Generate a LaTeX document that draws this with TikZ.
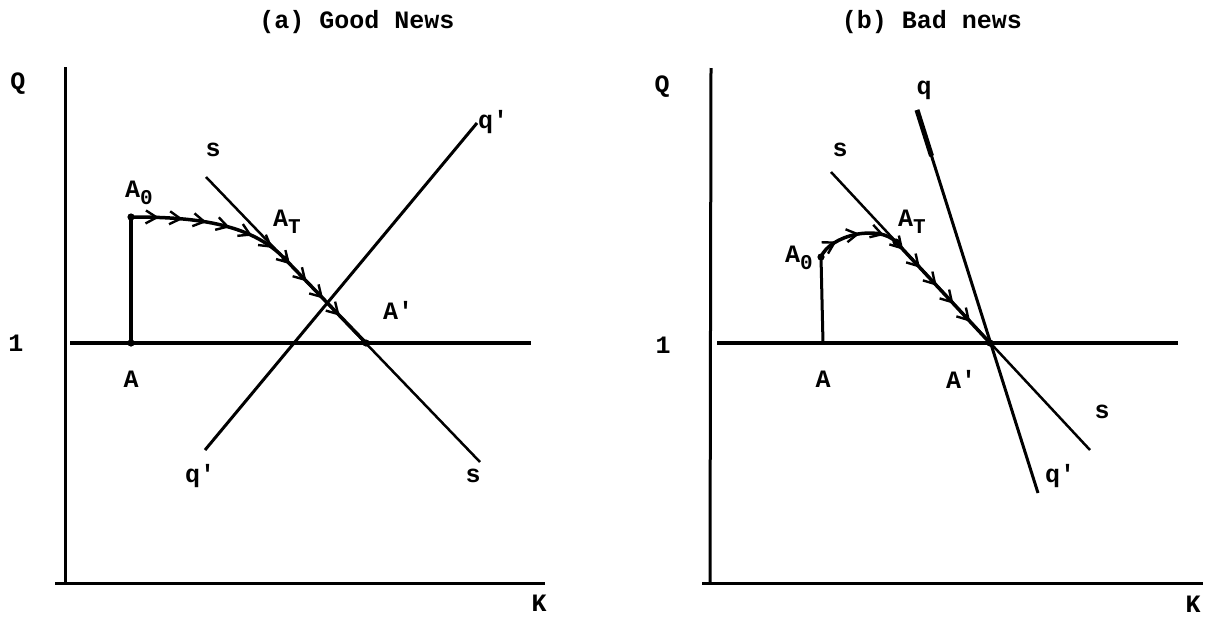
\documentclass[tikz,border=0pt]{standalone}
\usepackage{fontspec}
\setmonofont{Liberation Mono}
\usepackage{tikz}
\usetikzlibrary{arrows.meta,positioning,calc,decorations.markings}
\newcommand{\lowsub}[1]{\raisebox{-0.55ex}{\fontsize{21}{24}\selectfont #1}}

\begin{document}
\begin{tikzpicture}[
    x=1pt,y=-1pt,
    lbl/.style={font=\ttfamily\bfseries\fontsize{25}{28}\selectfont,inner sep=1pt},
    axis/.style={line width=3pt},
    unitline/.style={line width=3.2pt},
    sline/.style={line width=2.5pt},
    qline/.style={line width=3pt},
    trail/.style={line width=3.5pt,postaction={decorate},
      decoration={markings,mark=between positions #1 with {\arrow{Straight Barb[length=11pt,width=13pt,line width=2.4pt]}}}},
    dot/.style={fill=black}
  ]
    \useasboundingbox (0,0) rectangle (1212,616);

    % (a) good news
    \coordinate (lQend) at (65,67);
    \coordinate (lO) at (65,583);
    \coordinate (lO0) at (55,583);
    \coordinate (lKend) at (545,583);
    \coordinate (lOne0) at (70,343);
    \coordinate (lOne1) at (531,343);
    \coordinate (lA) at (131,343);
    \coordinate (lA0) at (131,217);
    \coordinate (lAT) at (285,259);
    \coordinate (lAp) at (366,343);
    \coordinate (ls0) at (206,177);
    \coordinate (ls1) at (480,462);
    \coordinate (lq0) at (205,450);
    \coordinate (lq1) at (477,123);

    \draw[axis] (lQend) -- (lO);
    \draw[axis] (lO0) -- (lKend);
    \draw[unitline] (lOne0) -- (lOne1);
    \draw[sline] (ls0) -- (ls1);
    \draw[qline] (lq0) -- (lq1);
    \draw[line width=4.5pt] (lA) -- (lA0);
    \draw[trail={0.1 and 0.95 step 0.085}] (lA0) .. controls (191,217) and (250,222) .. (lAT) -- (lAp);
    \foreach \p in {lA,lA0,lAT,lAp} \fill[dot] (\p) circle (3.6);

    \node[lbl] (ta) at (357,22) {(a) Good News};
    \node[lbl] (lQ) at (18,84) {Q};
    \node[lbl] (l1) at (16,343) {1};
    \node[lbl] (lK) at (539,603) {K};
    \node[lbl] (lAlbl) at (131,379) {A};
    \node[lbl] (lA0lbl) at (139,193) {A\lowsub{0}};
    \node[lbl] (lATlbl) at (287,222) {A\lowsub{T}};
    \node[lbl] (lAplbl) at (398,310) {A'};
    \node[lbl] (lsTop) at (213,150) {s};
    \node[lbl] (lsBot) at (473,476) {s};
    \node[lbl] (lqTop) at (493,122) {q'};
    \node[lbl] (lqBot) at (200,476) {q'};

    % (b) bad news
    \coordinate (rQend) at (711,68);
    \coordinate (rO) at (710,583);
    \coordinate (rO0) at (702,583);
    \coordinate (rKend) at (1203,583);
    \coordinate (rOne0) at (717,343);
    \coordinate (rOne1) at (1178,343);
    \coordinate (rA) at (823,343);
    \coordinate (rA0) at (821,257);
    \coordinate (rAT) at (896,242);
    \coordinate (rAp) at (990,343);
    \coordinate (rs0) at (831,172);
    \coordinate (rs1) at (1090,450);
    \coordinate (rq0) at (917,110);
    \coordinate (rq1) at (1038,493);

    \draw[axis] (rQend) -- (rO);
    \draw[axis] (rO0) -- (rKend);
    \draw[unitline] (rOne0) -- (rOne1);
    \draw[sline] (rs0) -- (rs1);
    \draw[qline] (rq0) -- (rq1);
    \draw[line width=5pt] (rq0) -- ($(rq0)!0.12!(rq1)$);
    \draw[line width=3pt] (rA) -- (rA0);
    \draw[trail={0.1 and 0.92 step 0.11}] (rA0) .. controls (830,235) and (879,224) .. (rAT) -- (rAp);
    \foreach \p in {rA0,rAT,rAp} \fill[dot] (\p) circle (3.6);

    \node[lbl] (tb) at (932,22) {(b) Bad news};
    \node[lbl] (rQ) at (662,87) {Q};
    \node[lbl] (r1) at (663,345) {1};
    \node[lbl] (rK) at (1193,604) {K};
    \node[lbl] (rAlbl) at (823,379) {A};
    \node[lbl] (rAplbl) at (961,379) {A'};
    \node[lbl] (rA0lbl) at (799,258) {A\lowsub{0}};
    \node[lbl] (rATlbl) at (912,222) {A\lowsub{T}};
    \node[lbl] (rsTop) at (840,150) {s};
    \node[lbl] (rsBot) at (1102,412) {s};
    \node[lbl] (rqTop) at (924,90) {q};
    \node[lbl] (rqBot) at (1060,476) {q'};
  \end{tikzpicture}
\end{document}
